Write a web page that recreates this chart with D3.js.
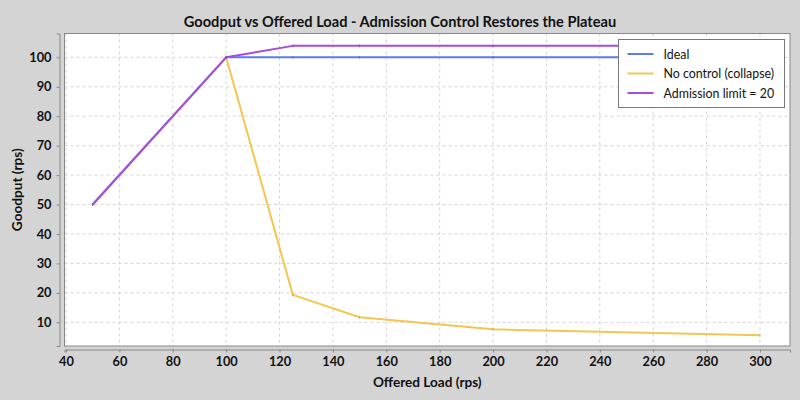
<!DOCTYPE html>
<html>
<head>
<meta charset="utf-8">
<script src="https://cdn.jsdelivr.net/npm/d3@7"></script>
<style>
  body { margin: 0; background: #d4d4d4; }
  svg { display: block; }
  text { font-family: Lato, "DejaVu Sans", sans-serif; fill: #111; }
</style>
</head>
<body>
<svg width="800" height="400"></svg>
<script>
const loads = [50, 100, 125, 150, 200, 300]
const ideal = [50, 100, 100, 100, 100, 100]
const noControl = [50, 100, 19.3, 11.7, 7.6, 5.6]
const admission = [50, 100, 103.9, 103.9, 103.9, 103.9]
const seriesNames = ["Ideal", "No control (collapse)", "Admission limit = 20"]
const seriesColors = ["#5a7cf0", "#f4c650", "#a24be6"]
const xTicks = [40, 60, 80, 100, 120, 140, 160, 180, 200, 220, 240, 260, 280, 300]
const yTicks = [10, 20, 30, 40, 50, 60, 70, 80, 90, 100]

const svg = d3.select("svg")

const plot = { left: 64.5, right: 790, top: 33.5, bottom: 346 }

const x = d3.scaleLinear()
    .domain([39.44, 311.25])
    .range([plot.left, plot.right])

const y = d3.scaleLinear()
    .domain([1.95, 108.1])
    .range([plot.bottom, plot.top])

// plot background
svg.append("rect")
    .attr("x", plot.left)
    .attr("y", plot.top)
    .attr("width", plot.right - plot.left)
    .attr("height", plot.bottom - plot.top)
    .attr("fill", "#fff")

// gridlines
const grid = svg.append("g")
    .attr("stroke", "#d4d4d4")
    .attr("stroke-width", 1)
    .attr("stroke-dasharray", "3,3")

grid.selectAll("line.vx")
    .data(xTicks)
    .enter()
    .append("line")
    .attr("x1", d => x(d)).attr("x2", d => x(d))
    .attr("y1", plot.top).attr("y2", plot.bottom)

grid.selectAll("line.hy")
    .data(yTicks)
    .enter()
    .append("line")
    .attr("x1", plot.left).attr("x2", plot.right)
    .attr("y1", d => y(d)).attr("y2", d => y(d))

// plot outline
svg.append("rect")
    .attr("x", plot.left)
    .attr("y", plot.top)
    .attr("width", plot.right - plot.left)
    .attr("height", plot.bottom - plot.top)
    .attr("fill", "none")
    .attr("stroke", "#888")
    .attr("stroke-width", 1)

// axes, offset a few pixels from the plot like the original
const xAxis = svg.append("g")
    .attr("transform", `translate(0,${plot.bottom + 3.5})`)
    .call(d3.axisBottom(x).tickValues(xTicks).tickSize(3).tickPadding(4))

const yAxis = svg.append("g")
    .attr("transform", `translate(${plot.left - 5},0)`)
    .call(d3.axisLeft(y).tickValues(yTicks).tickSize(3).tickPadding(5))

for (const ax of [xAxis, yAxis]) {
    ax.select(".domain").attr("stroke", "#888")
    ax.selectAll(".tick line").attr("stroke", "#888")
    ax.selectAll(".tick text")
        .attr("font-family", "Lato, 'DejaVu Sans', sans-serif")
        .attr("font-size", 12.8)
        .attr("font-weight", "bold")
        .attr("fill", "#222")
}

// series
const allSeries = [ideal, noControl, admission]
const line = d3.line()
    .x((d, i) => x(loads[i]))
    .y(d => y(d))

svg.append("g")
    .selectAll("path")
    .data(allSeries)
    .enter()
    .append("path")
    .attr("d", line)
    .attr("fill", "none")
    .attr("stroke", (d, i) => seriesColors[i])
    .attr("stroke-width", 2)
    .attr("stroke-linejoin", "round")

// tiny point marks
svg.append("g")
    .selectAll("g")
    .data(allSeries)
    .enter()
    .append("g")
    .attr("stroke", (d, i) => d3.color(seriesColors[i]).darker(0.8))
    .selectAll("line")
    .data(d => d)
    .enter()
    .append("line")
    .attr("x1", (d, i) => x(loads[i])).attr("x2", (d, i) => x(loads[i]))
    .attr("y1", d => y(d) - 1.5).attr("y2", d => y(d) + 1.5)
    .attr("stroke-width", 1)
    .attr("opacity", 0.6)

// title
svg.append("text")
    .attr("x", 400)
    .attr("y", 27)
    .attr("text-anchor", "middle")
    .attr("font-size", 14.6)
    .attr("font-weight", "bold")
    .text("Goodput vs Offered Load - Admission Control Restores the Plateau")

// axis titles
svg.append("text")
    .attr("x", (plot.left + plot.right) / 2)
    .attr("y", 387)
    .attr("text-anchor", "middle")
    .attr("font-size", 13.6)
    .attr("font-weight", "bold")
    .text("Offered Load (rps)")

svg.append("text")
    .attr("transform", `translate(22,${(plot.top + plot.bottom) / 2}) rotate(-90)`)
    .attr("text-anchor", "middle")
    .attr("font-size", 13.6)
    .attr("font-weight", "bold")
    .text("Goodput (rps)")

// legend
const legend = svg.append("g")
    .attr("transform", "translate(618.5,39.5)")

legend.append("rect")
    .attr("width", 166)
    .attr("height", 68)
    .attr("fill", "#fff")
    .attr("stroke", "#777")
    .attr("stroke-width", 1)

const entries = legend.selectAll("g.entry")
    .data(seriesNames)
    .enter()
    .append("g")
    .attr("transform", (d, i) => `translate(0,${14.5 + i * 19.5})`)

entries.append("line")
    .attr("x1", 9).attr("x2", 35)
    .attr("stroke", (d, i) => seriesColors[i])
    .attr("stroke-width", 2)

entries.append("text")
    .attr("x", 45)
    .attr("y", 4.5)
    .attr("font-size", 12.4)
    .text(d => d)
</script>
</body>
</html>
